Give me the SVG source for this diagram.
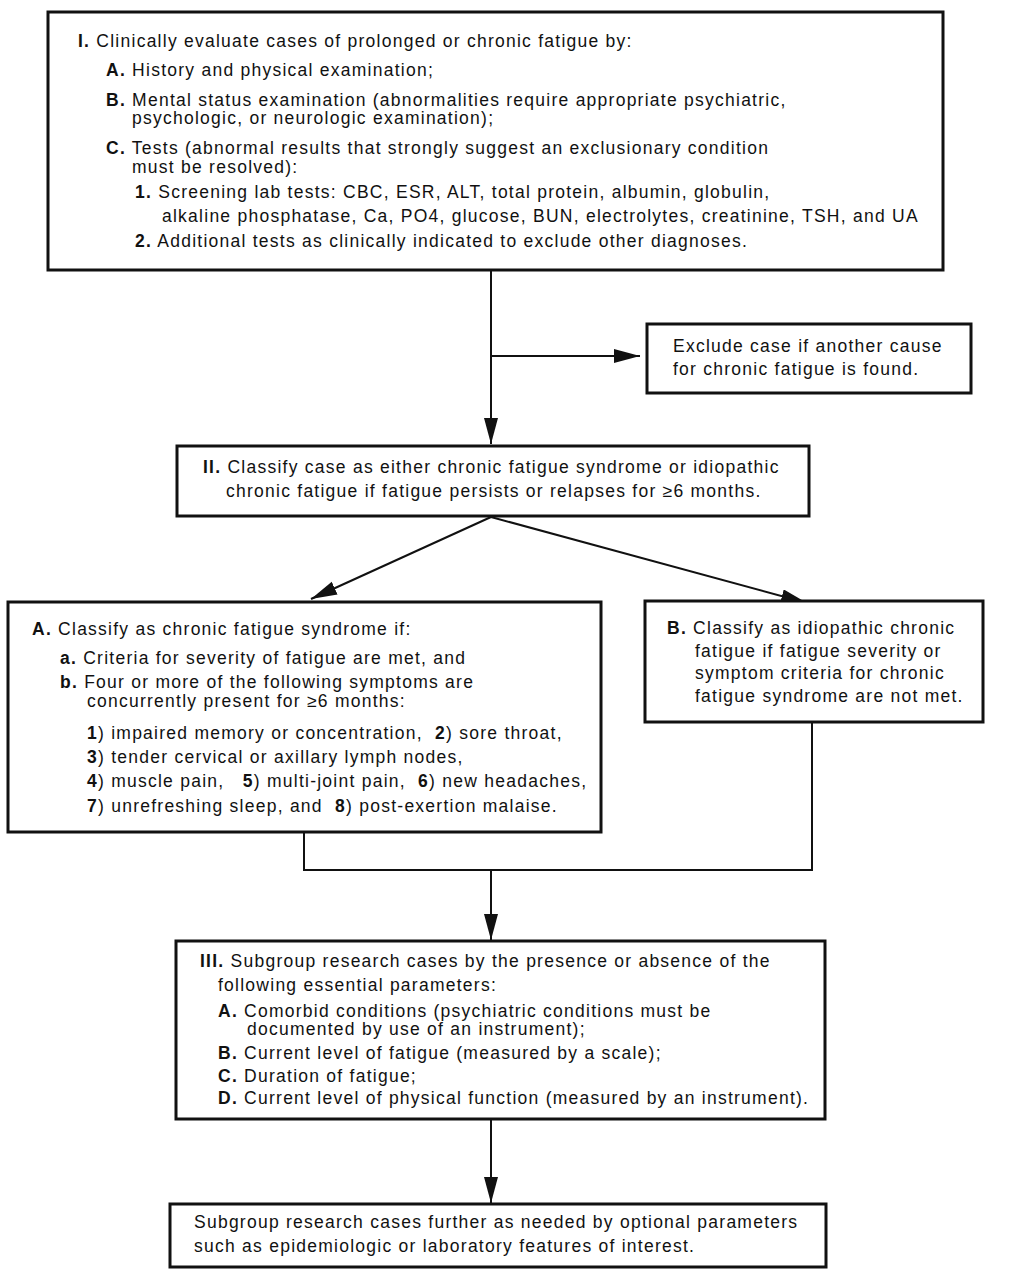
<svg xmlns="http://www.w3.org/2000/svg" width="1034" height="1280" viewBox="0 0 1034 1280">
<defs>
<style>
.box{fill:#fff;stroke:#111;stroke-width:3}
.t{font-family:"Liberation Sans",Arial,sans-serif;font-size:17.5px;letter-spacing:1.25px;fill:#111;white-space:pre}
.b{font-weight:bold}
.c{fill:none;stroke:#111;stroke-width:2}
</style>
<marker id="ah" markerUnits="userSpaceOnUse" markerWidth="28" markerHeight="16" refX="26" refY="7" orient="auto">
<path d="M0,0 L26,7 L0,14 z" fill="#111"/>
</marker>
</defs>
<rect width="1034" height="1280" fill="#fff"/>
<g id="connectors">
<line class="c" x1="491" y1="270" x2="491" y2="444" marker-end="url(#ah)"/>
<line class="c" x1="491" y1="356" x2="640" y2="356" marker-end="url(#ah)"/>
<line class="c" x1="491" y1="517" x2="311" y2="599" marker-end="url(#ah)"/>
<line class="c" x1="491" y1="517" x2="807" y2="603" marker-end="url(#ah)"/>
<polyline class="c" points="304,832 304,870 812,870 812,722"/>
<line class="c" x1="491" y1="870" x2="491" y2="940" marker-end="url(#ah)"/>
<line class="c" x1="491" y1="1119" x2="491" y2="1203" marker-end="url(#ah)"/>
</g>
<g id="node-I">
<rect class="box" x="48" y="12" width="895" height="258"/>
<text class="t" x="78" y="47"><tspan class="b">I.</tspan> Clinically evaluate cases of prolonged or chronic fatigue by:</text>
<text class="t" x="106" y="76"><tspan class="b">A.</tspan> History and physical examination;</text>
<text class="t" x="106" y="106"><tspan class="b">B.</tspan> Mental status examination (abnormalities require appropriate psychiatric,</text>
<text class="t" x="132" y="124">psychologic, or neurologic examination);</text>
<text class="t" x="106" y="154"><tspan class="b">C.</tspan> Tests (abnormal results that strongly suggest an exclusionary condition</text>
<text class="t" x="132" y="173">must be resolved):</text>
<text class="t" x="135" y="198"><tspan class="b">1.</tspan> Screening lab tests: CBC, ESR, ALT, total protein, albumin, globulin,</text>
<text class="t" x="162" y="222">alkaline phosphatase, Ca, PO4, glucose, BUN, electrolytes, creatinine, TSH, and UA</text>
<text class="t" x="135" y="247"><tspan class="b">2.</tspan> Additional tests as clinically indicated to exclude other diagnoses.</text>
</g>
<g id="node-exclude">
<rect class="box" x="647" y="324" width="324" height="69"/>
<text class="t" x="673" y="352">Exclude case if another cause</text>
<text class="t" x="673" y="375">for chronic fatigue is found.</text>
</g>
<g id="node-II">
<rect class="box" x="177" y="446" width="632" height="70"/>
<text class="t" x="203" y="473"><tspan class="b">II.</tspan> Classify case as either chronic fatigue syndrome or idiopathic</text>
<text class="t" x="226" y="497">chronic fatigue if fatigue persists or relapses for ≥6 months.</text>
</g>
<g id="node-A">
<rect class="box" x="8" y="602" width="593" height="230"/>
<text class="t" x="32" y="635"><tspan class="b">A.</tspan> Classify as chronic fatigue syndrome if:</text>
<text class="t" x="60" y="664"><tspan class="b">a.</tspan> Criteria for severity of fatigue are met, and</text>
<text class="t" x="60" y="688"><tspan class="b">b.</tspan> Four or more of the following symptoms are</text>
<text class="t" x="87" y="707">concurrently present for ≥6 months:</text>
<text class="t" x="87" y="739"><tspan class="b">1</tspan>) impaired memory or concentration,  <tspan class="b">2</tspan>) sore throat,</text>
<text class="t" x="87" y="763"><tspan class="b">3</tspan>) tender cervical or axillary lymph nodes,</text>
<text class="t" x="87" y="787"><tspan class="b">4</tspan>) muscle pain,   <tspan class="b">5</tspan>) multi-joint pain,  <tspan class="b">6</tspan>) new headaches,</text>
<text class="t" x="87" y="812"><tspan class="b">7</tspan>) unrefreshing sleep, and  <tspan class="b">8</tspan>) post-exertion malaise.</text>
</g>
<g id="node-B">
<rect class="box" x="645" y="601" width="338" height="121"/>
<text class="t" x="667" y="634"><tspan class="b">B.</tspan> Classify as idiopathic chronic</text>
<text class="t" x="695" y="657">fatigue if fatigue severity or</text>
<text class="t" x="695" y="679">symptom criteria for chronic</text>
<text class="t" x="695" y="702">fatigue syndrome are not met.</text>
</g>
<g id="node-III">
<rect class="box" x="176" y="941" width="649" height="178"/>
<text class="t" x="200" y="967"><tspan class="b">III.</tspan> Subgroup research cases by the presence or absence of the</text>
<text class="t" x="218" y="991">following essential parameters:</text>
<text class="t" x="218" y="1017"><tspan class="b">A.</tspan> Comorbid conditions (psychiatric conditions must be</text>
<text class="t" x="247" y="1035">documented by use of an instrument);</text>
<text class="t" x="218" y="1059"><tspan class="b">B.</tspan> Current level of fatigue (measured by a scale);</text>
<text class="t" x="218" y="1082"><tspan class="b">C.</tspan> Duration of fatigue;</text>
<text class="t" x="218" y="1104"><tspan class="b">D.</tspan> Current level of physical function (measured by an instrument).</text>
</g>
<g id="node-final">
<rect class="box" x="170" y="1204" width="656" height="63"/>
<text class="t" x="194" y="1228">Subgroup research cases further as needed by optional parameters</text>
<text class="t" x="194" y="1252">such as epidemiologic or laboratory features of interest.</text>
</g>
</svg>
